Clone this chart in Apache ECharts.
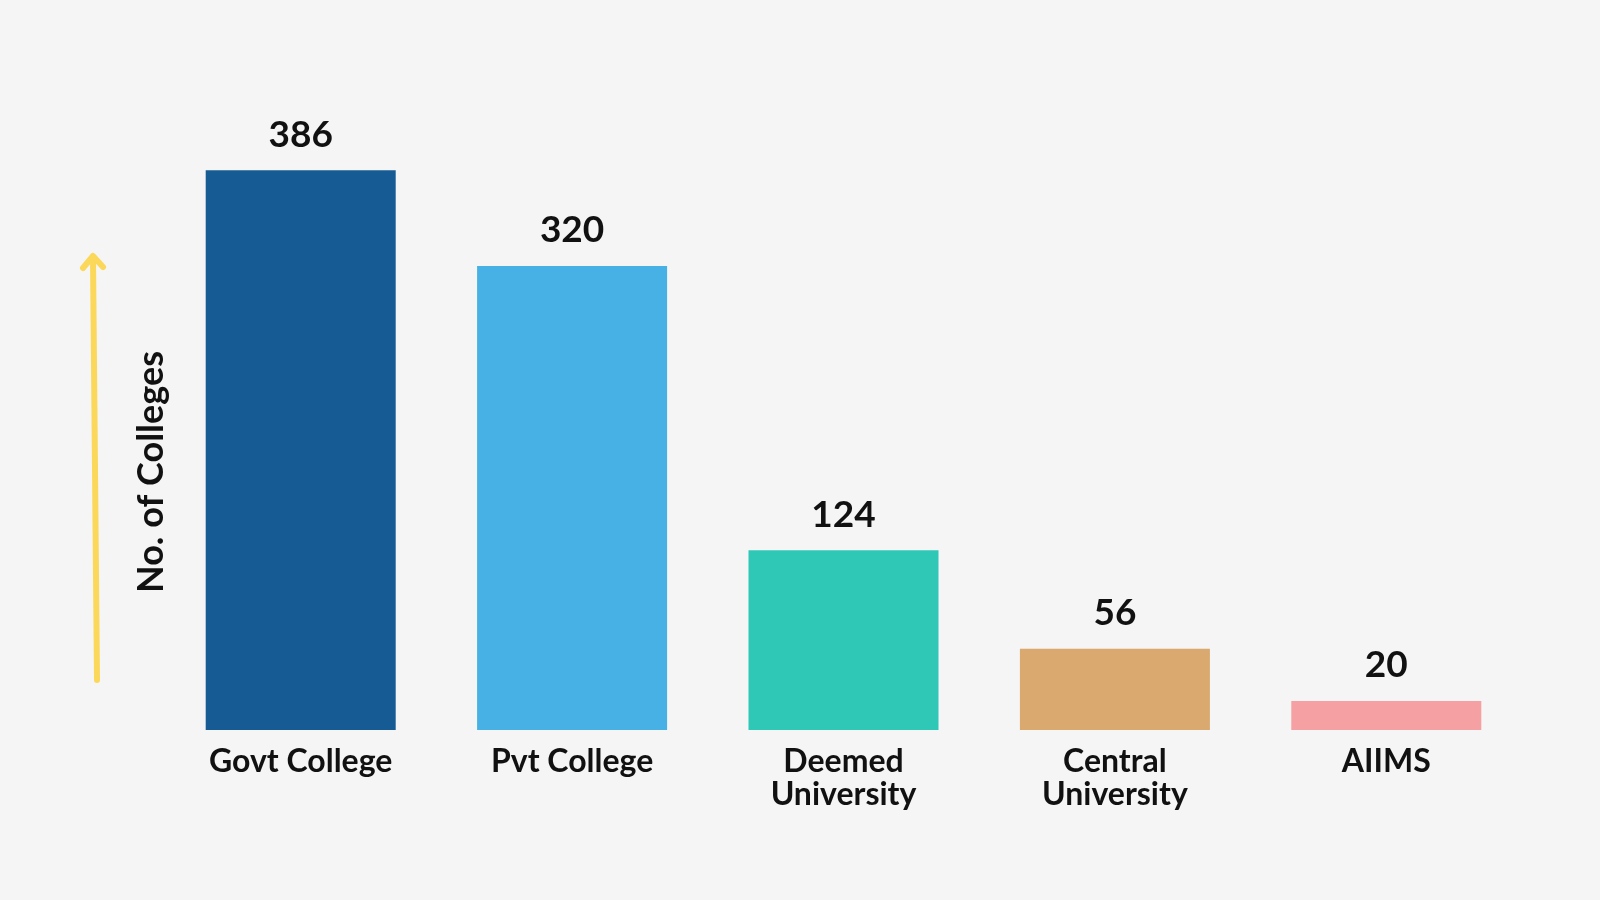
<!DOCTYPE html>
<html>
<head>
<meta charset="utf-8">
<script src="https://cdn.jsdelivr.net/npm/echarts@6/dist/echarts.min.js"></script>
<style>
html,body{margin:0;padding:0;background:#f5f5f5;}
#chart{width:1600px;height:900px;}
</style>
</head>
<body>
<div id="chart"></div>
<script>
const categories = ['Govt College', 'Pvt College', 'Deemed\nUniversity', 'Central\nUniversity', 'AIIMS'];
const collegeCounts = [386, 320, 124, 56, 20];
const barColors = ['#165b94', '#47b0e4', '#2fc8b7', '#d9a970', '#f5a0a2'];
const axisTitle = 'No. of Colleges';

const FONT = 'Lato, "Open Sans", sans-serif';
const chart = echarts.init(document.getElementById('chart'));

chart.setOption({
  backgroundColor: '#f5f5f5',
  animation: false,
  grid: { left: 165, right: 78, top: 150, bottom: 170 },
  xAxis: {
    type: 'category',
    data: categories,
    axisLine: { show: false },
    axisTick: { show: false },
    axisLabel: {
      margin: 15,
      interval: 0,
      color: '#111',
      fontFamily: FONT,
      fontWeight: 'bold',
      fontSize: 32,
      lineHeight: 33
    }
  },
  yAxis: {
    type: 'value',
    min: 0,
    max: 400,
    show: false,
    splitLine: { show: false }
  },
  series: [{
    type: 'bar',
    barWidth: 190,
    data: collegeCounts.map((v, i) => ({ value: v, itemStyle: { color: barColors[i] } })),
    label: {
      show: true,
      position: 'top',
      distance: 17,
      color: '#111',
      fontFamily: FONT,
      fontWeight: 'bold',
      fontSize: 37
    }
  }],
  graphic: [
    {
      type: 'polyline',
      shape: { points: [[97, 680], [93, 258]] },
      style: { stroke: '#fbd85a', lineWidth: 6, lineCap: 'round', fill: null }
    },
    {
      type: 'polyline',
      shape: { points: [[83, 268], [93, 256], [103, 267]] },
      style: { stroke: '#fbd85a', lineWidth: 6, lineCap: 'round', lineJoin: 'round', fill: null }
    },
    {
      type: 'text',
      x: 151,
      y: 472,
      rotation: Math.PI / 2,
      style: {
        text: axisTitle,
        fill: '#111',
        font: 'bold 36px ' + FONT,
        align: 'center',
        verticalAlign: 'middle'
      }
    }
  ]
});
</script>
</body>
</html>
